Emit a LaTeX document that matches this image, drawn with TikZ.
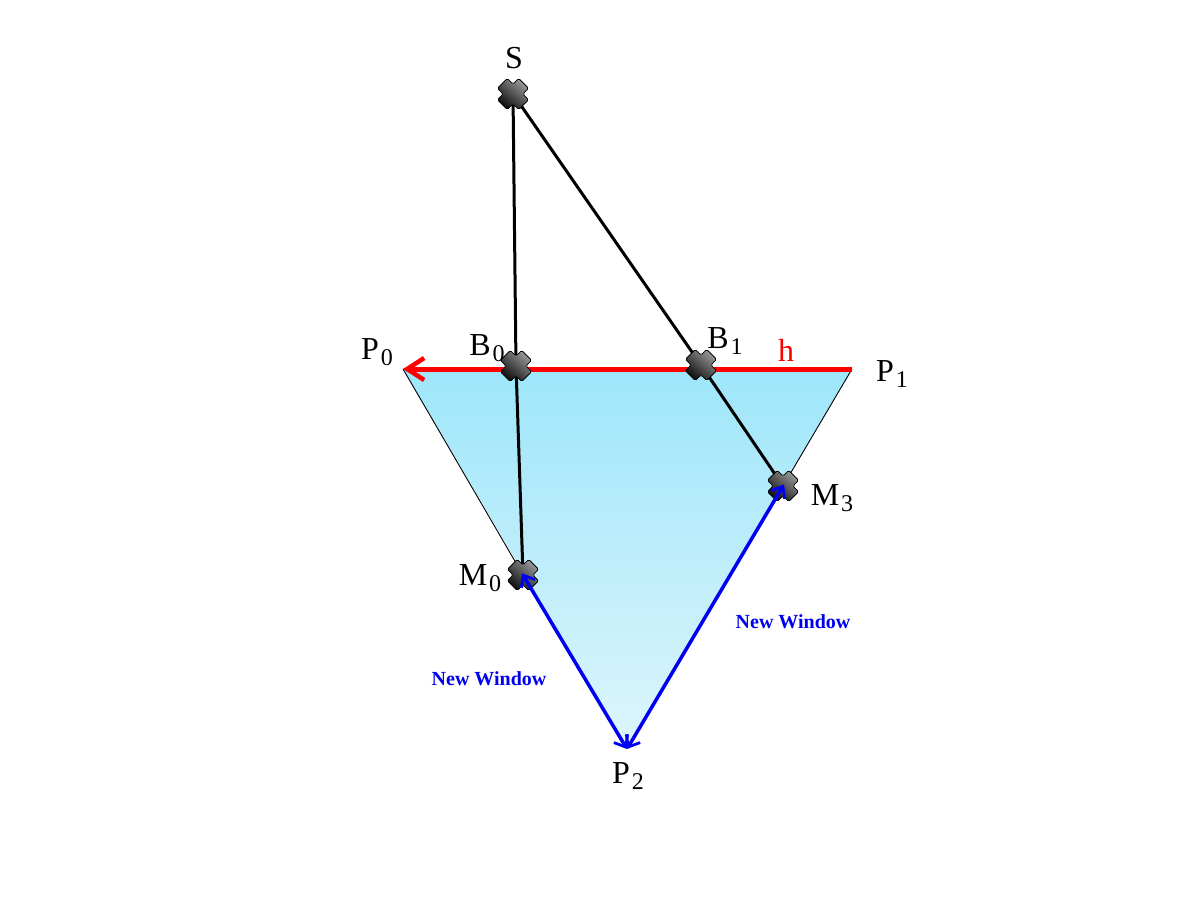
\documentclass[tikz,border=0pt]{standalone}
\usepackage{fontspec}
\setmainfont{Liberation Serif}
\usetikzlibrary{arrows.meta}
\definecolor{triTop}{RGB}{158,230,250}
\definecolor{triBot}{RGB}{222,245,252}
\definecolor{redline}{RGB}{255,0,0}
\definecolor{blueline}{RGB}{0,0,240}
\newcommand\lowsub[1]{\kern2pt\raisebox{-0.4ex}{\fontsize{24}{24}\selectfont #1}}
\tikzset{
  lbl/.style={font=\fontsize{32}{32}\selectfont, inner sep=0pt},
  winlbl/.style={font=\fontsize{20}{20}\selectfont\bfseries, text=blueline, inner sep=0pt},
  rayline/.style={line width=3pt, black},
  edgeline/.style={line width=0.9pt, black},
  hline/.style={line width=5pt, redline, -{Straight Barb[length=17pt,width=22pt,line width=4.5pt]}},
  winline/.style={line width=3.5pt, blueline, {Straight Barb[length=10pt,width=16pt,line width=2.8pt]}-{Straight Barb[length=10pt,width=16pt,line width=2.8pt]}},
  marker/.pic={
    \shade[draw=black, line width=0.8pt, rounded corners=1.5pt, rotate=45,
      top color=black!40, bottom color=black!95, shading angle=-40]
      (7,15)--(7,7)--(15,7)--(15,-7)--(7,-7)--(7,-15)--(-7,-15)--(-7,-7)--(-15,-7)--(-15,7)--(-7,7)--(-7,15)--cycle;
  }
}
\begin{document}
\begin{tikzpicture}[x=1pt,y=-1pt]
\useasboundingbox (0,0) rectangle (1200,900);
% points
\coordinate (S) at (513,94);
\coordinate (B0) at (516,366);
\coordinate (B1) at (701,365);
\coordinate (P0) at (403,369);
\coordinate (P1) at (852,369);
\coordinate (P2) at (627,749);
\coordinate (M0) at (523,575);
\coordinate (M3) at (783,486);
% triangle
\shade[top color=triTop, bottom color=triBot] (P0) -- (P1) -- (P2) -- cycle;
\draw[edgeline] (P0) -- (M0);
\draw[edgeline] (P1) -- (M3);
% red line h
\draw[hline] (P1) -- (P0);
% rays from S
\draw[rayline] (S) -- (B0) -- (M0);
\draw[rayline] (S) -- (B1) -- (M3);
% markers
\foreach \p in {S,B0,B1,M0,M3} \pic at (\p) {marker};
% new window arrows
\draw[winline, shorten <=-2pt] (M0) -- (P2);
\draw[winline, shorten <=-2pt] (M3) -- (P2);
% labels
\node[lbl] (lS) at (514,58) {S};
\node[lbl] (lP0) at (377,352) {P\lowsub{0}};
\node[lbl] (lB0) at (487,348) {B\lowsub{0}};
\node[lbl] (lB1) at (725,341) {B\lowsub{1}};
\node[lbl, text=redline] (lh) at (786,350) {h};
\node[lbl] (lP1) at (892,374) {P\lowsub{1}};
\node[lbl] (lM3) at (832,498) {M\lowsub{3}};
\node[lbl] (lM0) at (480,578) {M\lowsub{0}};
\node[lbl] (lP2) at (628,776) {P\lowsub{2}};
\node[winlbl] (w1) at (489,679) {New Window};
\node[winlbl] (w2) at (793,622) {New Window};
\end{tikzpicture}
\end{document}
